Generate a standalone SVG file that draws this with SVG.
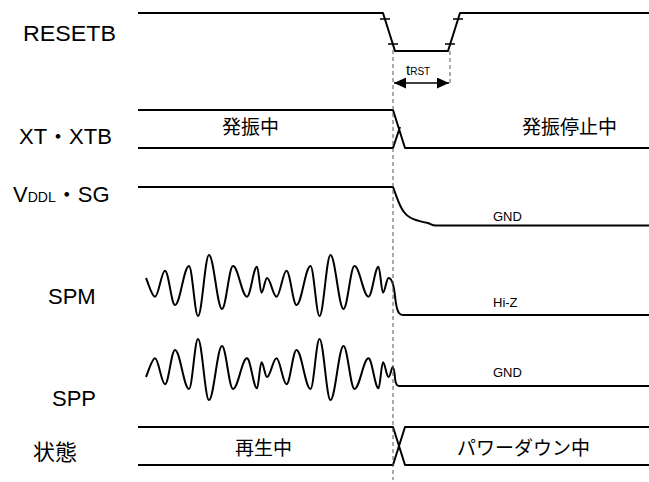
<svg xmlns="http://www.w3.org/2000/svg" width="649" height="482" viewBox="0 0 649 482">
<style>
.sig{fill:none;stroke:#000;stroke-width:2;stroke-linejoin:round;stroke-linecap:butt}
.tick{stroke:#000;stroke-width:1.5}
.dash{fill:none;stroke:#555;stroke-width:1;stroke-dasharray:4 3}
.lbl{font-family:"Liberation Sans","Noto Sans CJK JP",sans-serif;font-size:22px;fill:#000}
.jp{font-family:"Noto Sans CJK JP",sans-serif;font-size:19px;fill:#000}
.sm{font-family:"Liberation Sans",sans-serif;font-size:13px;fill:#000}
</style>
<defs>
<marker id="ah" viewBox="0 0 12 11" refX="12" refY="5.5" markerWidth="12" markerHeight="11" markerUnits="userSpaceOnUse" orient="auto-start-reverse">
<path d="M0,0 L12,5.5 L0,11 z" fill="#000"/>
</marker>
</defs>
<rect width="649" height="482" fill="#fff"/>

<g id="resetb">
<text class="lbl" x="23" y="41" textLength="93" lengthAdjust="spacingAndGlyphs">RESETB</text>
<path class="sig" d="M138,13 H383 L395,51 H448 L460,13 H649"/>
<path class="tick" d="M380,19 H390 M388,44 H398 M445,44 H455 M453,19 H463"/>
</g>

<g id="xt">
<text class="lbl" x="19" y="144">XT・XTB</text>
<path class="sig" d="M138,110 H393 L405,148 H649 M138,148 H393 L400,127"/>
<text class="jp" x="222" y="134">発振中</text>
<text class="jp" x="522" y="134">発振停止中</text>
</g>

<g id="vddl">
<text class="lbl" x="13" y="202">V<tspan font-size="14">DDL</tspan>・SG</text>
<path class="sig" d="M138,187 H393 C397,197 399,206 404,212 C409,219 418,221 428,223 C431,224 432,225.5 436,225.5 H649"/>
<text class="sm" x="493" y="221">GND</text>
</g>

<g id="spm">
<text class="lbl" x="48" y="304">SPM</text>
<path class="sig" d="M146,278 C149,285 152,296.7 155,296.7 C158.6,296.7 161.4,270.7 165,270.7 C168.6,270.7 171.4,305 175,305 C180.1,305 183.9,266 189,266 C192.3,266 194.7,316 198,316 C202,316 205,255 209,255 C213.7,255 217.3,309 222,309 C226,309 229,266 233,266 C238.1,266 241.9,296.7 247,296.7 C250.6,296.7 253.4,266.7 257,266.7 C258.6,266.7 259.9,292.7 261.5,292.7 C263.5,292.7 265,278 267,278 C270.5,278 273,296.7 276.5,296.7 C280.1,296.7 282.9,270.7 286.5,270.7 C290.1,270.7 292.9,305 296.5,305 C301.6,305 305.4,266 310.5,266 C313.8,266 316.2,316 319.5,316 C323.5,316 326.5,255 330.5,255 C335.2,255 338.8,309 343.5,309 C347.5,309 350.5,266 354.5,266 C359.6,266 363.4,296.7 368.5,296.7 C372.1,296.7 374.9,266.7 378.5,266.7 C380.1,266.7 381.4,292.7 383,292.7 C385,292.7 386.5,278 388.5,278 C390.5,278 393,281 394.5,292 C395.5,300 396,310 399,313 C400,314.5 401,315 403,315 H649"/>
<text class="sm" x="493" y="307">Hi-Z</text>
</g>

<g id="spp">
<text class="lbl" x="52" y="406">SPP</text>
<path class="sig" d="M146,377 C149,370 152,358.3 155,358.3 C158.6,358.3 161.4,384.3 165,384.3 C168.6,384.3 171.4,350 175,350 C180.1,350 183.9,389 189,389 C192.3,389 194.7,339 198,339 C202,339 205,400 209,400 C213.7,400 217.3,346 222,346 C226,346 229,389 233,389 C238.1,389 241.9,358.3 247,358.3 C250.6,358.3 253.4,388.3 257,388.3 C258.6,388.3 259.9,362.3 261.5,362.3 C263.5,362.3 265,377 267,377 C270.5,377 273,358.3 276.5,358.3 C280.1,358.3 282.9,384.3 286.5,384.3 C290.1,384.3 292.9,350 296.5,350 C301.6,350 305.4,389 310.5,389 C313.8,389 316.2,339 319.5,339 C323.5,339 326.5,400 330.5,400 C335.2,400 338.8,346 343.5,346 C347.5,346 350.5,389 354.5,389 C359.6,389 363.4,358.3 368.5,358.3 C372.1,358.3 374.9,388.3 378.5,388.3 C380.1,388.3 381.4,362.3 383,362.3 C385,362.3 386.5,377 388.5,377 C390.5,377 391.5,367 392.7,367 C394,367 394.5,372 395,378 C395.5,384 396.5,386 399,386 H649"/>
<text class="sm" x="493" y="377">GND</text>
</g>

<g id="state">
<text class="lbl" x="33" y="460">状態</text>
<path class="sig" d="M138,427 H393 L405,465 H649 M138,465 H393 L405,427 H649"/>
<text class="jp" x="235" y="455">再生中</text>
<text class="jp" x="457" y="455">パワーダウン中</text>
</g>

<g id="trst">
<text font-family="Liberation Sans,sans-serif" font-size="15" x="406" y="75">t<tspan font-size="10">RST</tspan></text>
</g>

<g id="connectors">
<path class="dash" d="M393,50 V480 M450,51 V83"/>
<line x1="394" y1="83" x2="449" y2="83" stroke="#000" stroke-width="1.5" marker-start="url(#ah)" marker-end="url(#ah)"/>
</g>
</svg>
